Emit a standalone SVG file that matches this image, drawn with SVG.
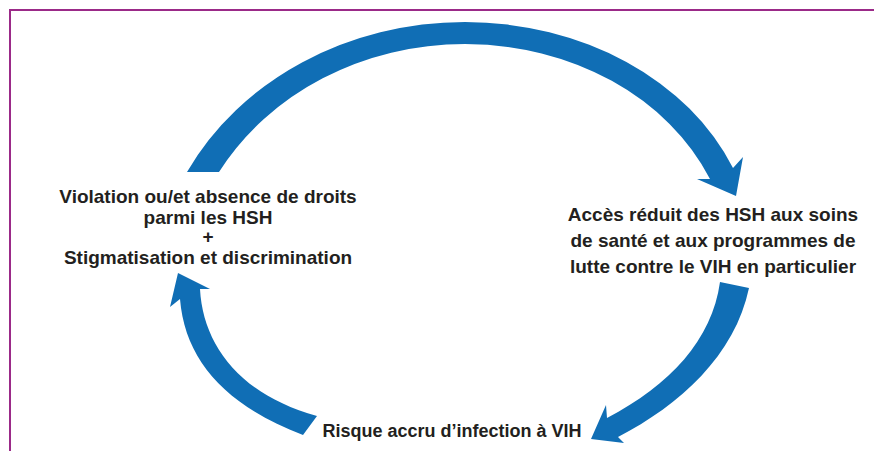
<svg xmlns="http://www.w3.org/2000/svg" width="874" height="451" viewBox="0 0 874 451">
  <style>
    .lbl { font-family: "Liberation Sans", Arial, sans-serif; font-weight: bold; fill: #231f20; text-anchor: middle; }
    .arrow { fill: #106eb5; stroke: none; }
    .frame { fill: none; stroke: #9b2a88; stroke-width: 2; }
  </style>
  <rect width="874" height="451" fill="#ffffff"/>
  <rect class="frame" x="10" y="10" width="900" height="500"/>
  <g id="connectors">
    <path id="arrow-top" class="arrow" d="M187,172 A312,275 0 0 1 465,22 A290,235 0 0 1 733,168 L743,157 L736,196 L697,179 L710,179 A266.5,222.5 0 0 0 465,44 A283,253 0 0 0 219,172 Z"/>
    <path id="arrow-right" class="arrow" d="M720,282 L749,288 C735,355 680,405 618,437 L624,443 L591,439 L606,405 L607,418 C670,385 712,340 720,282 Z"/>
    <path id="arrow-left" class="arrow" d="M303,435 C225,405 185,360 180,299 L170,307 L178,273 L210,289 L200,289 C203,345 240,395 317,416 Z"/>
  </g>
  <g id="node-violation">
    <text class="lbl" font-size="19" x="208" y="203">Violation ou/et absence de droits</text>
    <text class="lbl" font-size="19" x="208" y="224">parmi les HSH</text>
    <text class="lbl" font-size="19" x="208" y="243">+</text>
    <text class="lbl" font-size="19" x="208" y="264">Stigmatisation et discrimination</text>
  </g>
  <g id="node-acces">
    <text class="lbl" font-size="19" x="713" y="221">Accès réduit des HSH aux soins</text>
    <text class="lbl" font-size="19" x="713" y="247">de santé et aux programmes de</text>
    <text class="lbl" font-size="19" x="713" y="273">lutte contre le VIH en particulier</text>
  </g>
  <g id="node-risque">
    <text class="lbl" font-size="18" x="452" y="437">Risque accru d’infection à VIH</text>
  </g>
</svg>
